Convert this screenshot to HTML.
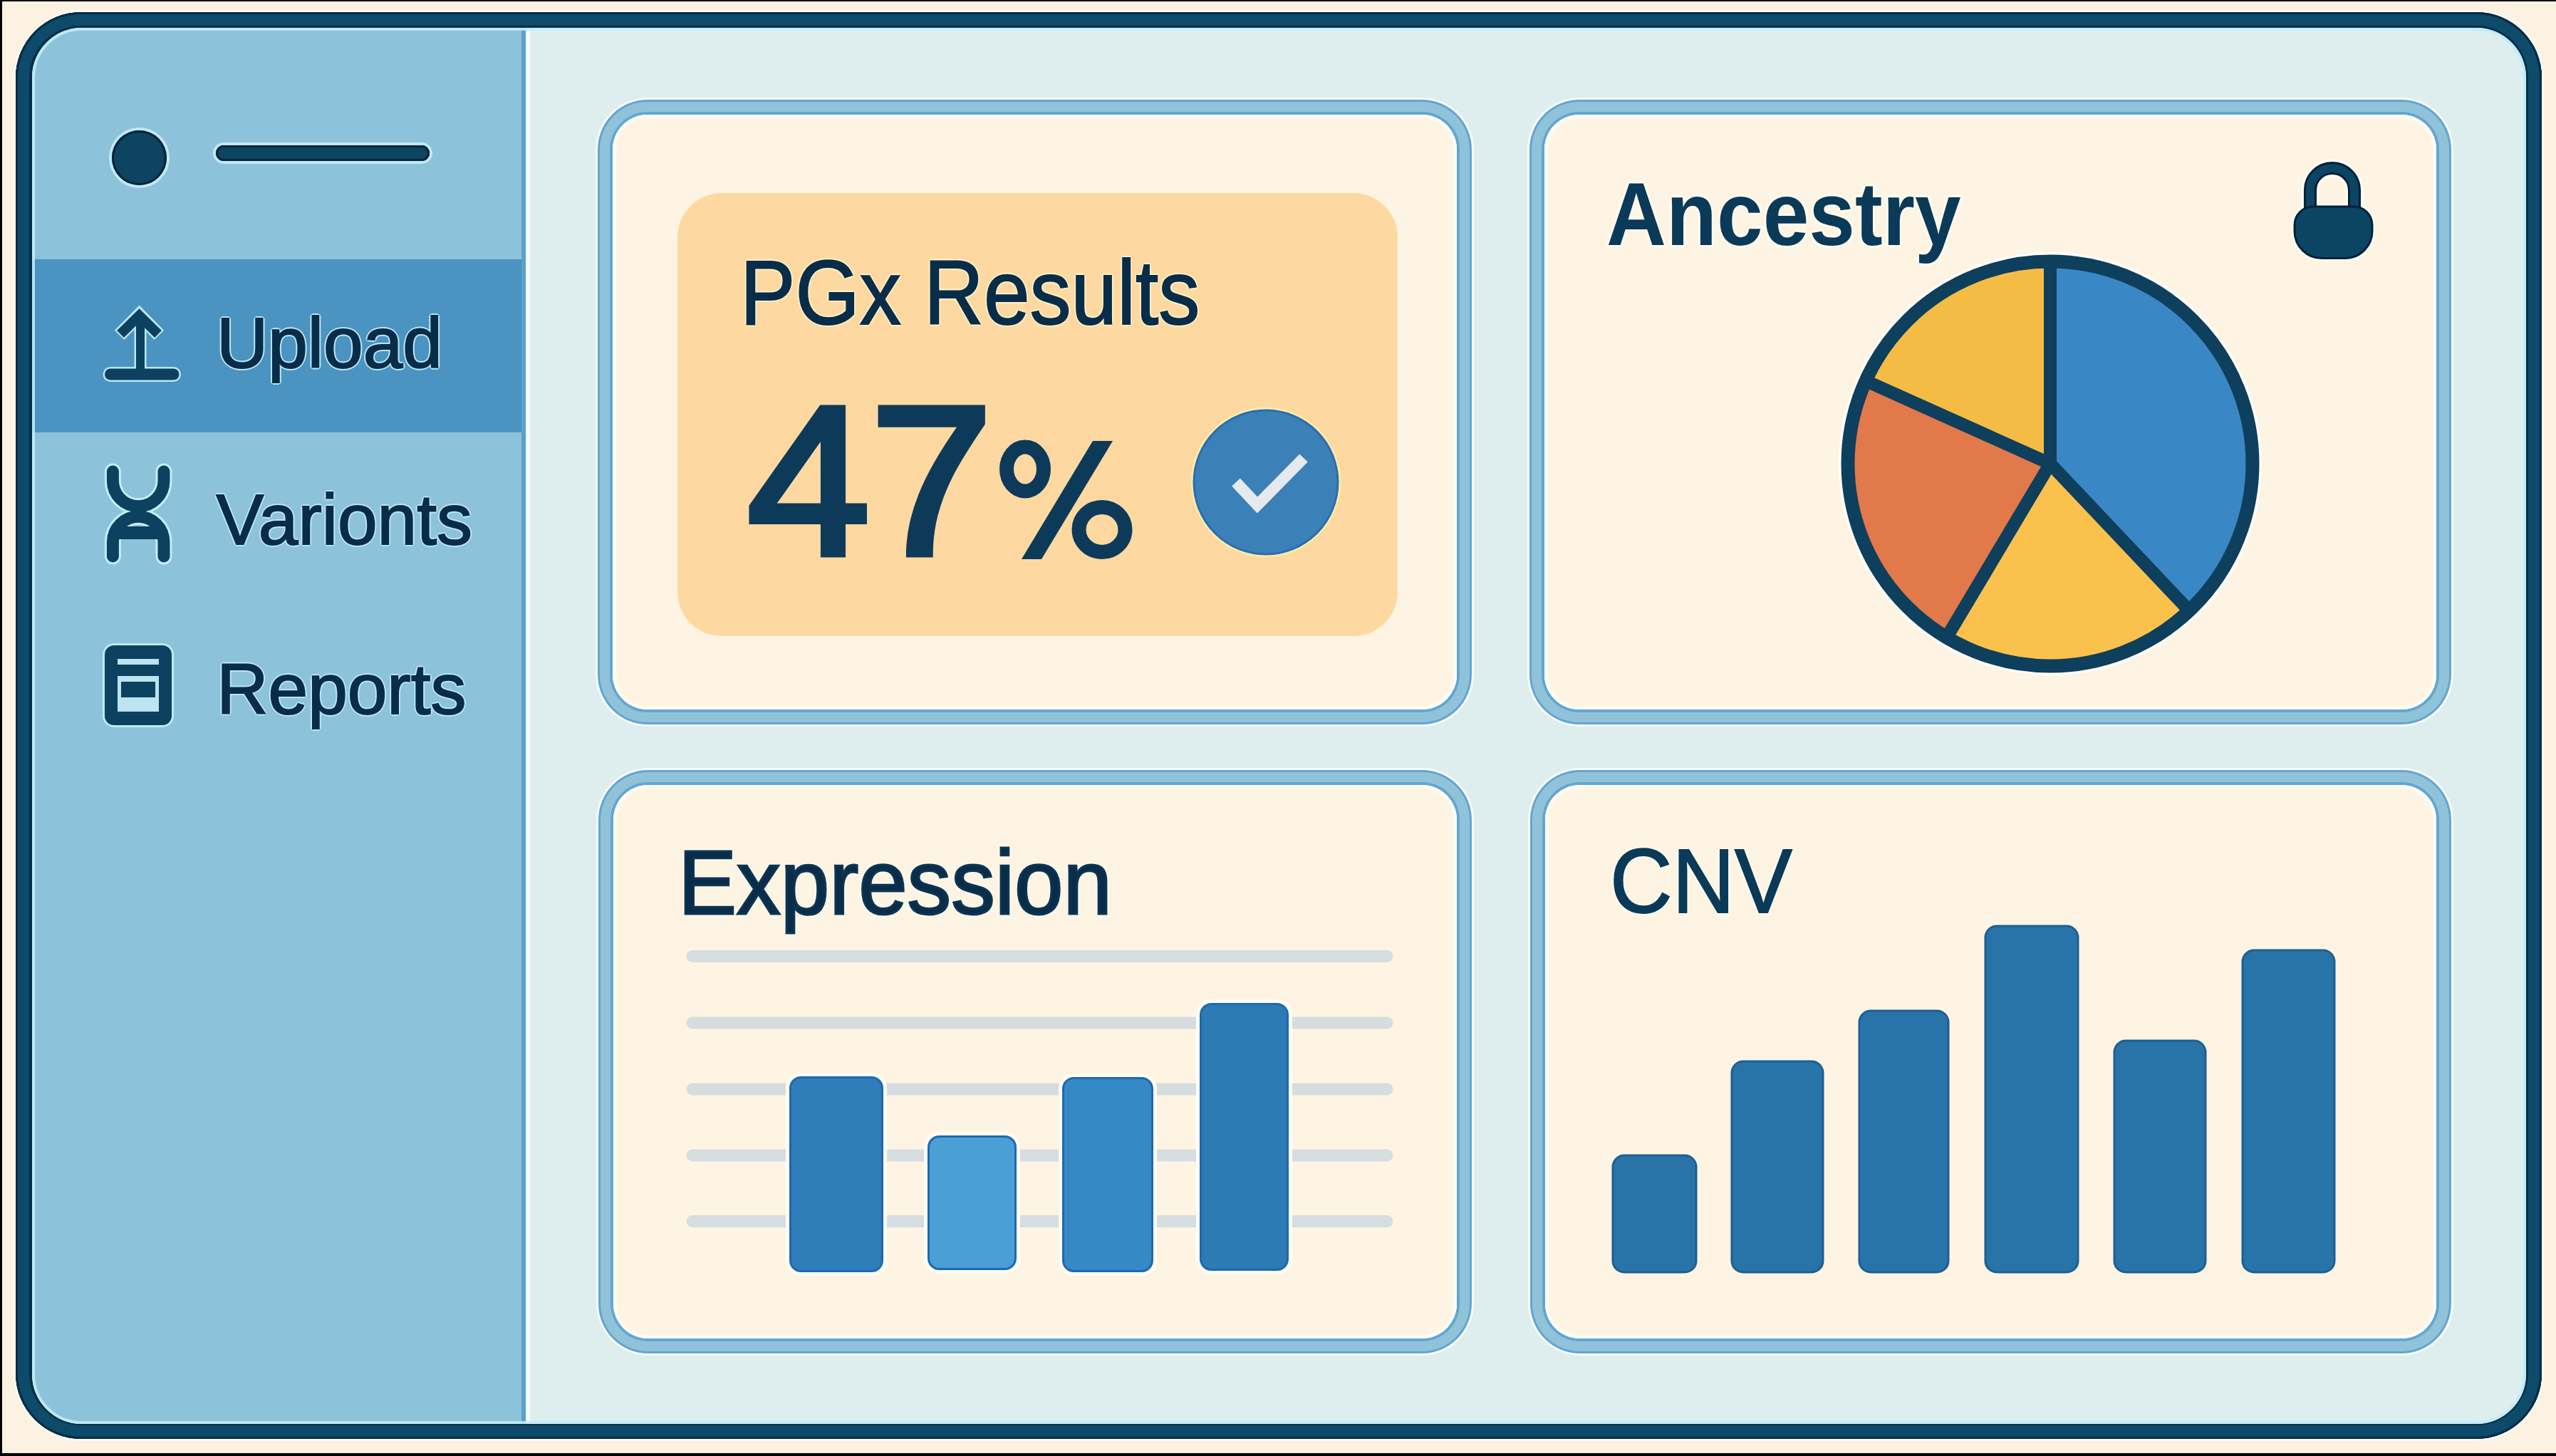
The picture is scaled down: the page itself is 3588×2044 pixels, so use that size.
<!DOCTYPE html>
<html><head><meta charset="utf-8">
<style>
html,body{margin:0;padding:0;}
body{width:3588px;height:2044px;position:relative;overflow:hidden;background:#FCF2E1;font-family:"Liberation Sans",sans-serif;}
.abs{position:absolute;}
#blk-top{left:0;top:0;width:3588px;height:2px;background:#000;}
#blk-left{left:0;top:0;width:3px;height:2044px;background:#000;}
#blk-bot{left:0;top:2040px;width:3588px;height:4px;background:#000;}
#frame{left:22px;top:17px;width:3546px;height:2003px;box-sizing:border-box;border-radius:92px;background:#0E4A6A;box-shadow:0 0 0 3px rgba(255,255,255,.55), inset 0 0 0 3px #062E45, inset 0 0 0 19px #0E4A6A, inset 0 0 0 23px #062E45;}
#inner{left:45px;top:39px;width:3501px;height:1960px;border-radius:70px;overflow:hidden;background:#DEEEEF;}
#side{left:0;top:0;width:692px;height:1960px;background:#8DC2DB;}
#side-edge{left:687px;top:0;width:6px;height:1960px;background:#5BA2CB;}
#side-white{left:694px;top:0;width:5px;height:1960px;background:#F8FCF9;}
#active{left:0;top:325px;width:692px;height:243px;background:#4B93C0;}
#inner-hl{left:45px;top:39px;width:3501px;height:1960px;border-radius:70px;box-sizing:border-box;border:4px solid rgba(190,236,250,.9);}
.card{box-sizing:border-box;border-radius:70px;background:#62A6D0;box-shadow:0 0 0 3px rgba(255,255,255,.8);}
.card .mid{position:absolute;left:3px;top:3px;right:3px;bottom:3px;border-radius:67px;background:#90C2DA;}
.card .in{position:absolute;left:17px;top:17px;right:17px;bottom:17px;border-radius:53px;background:#62A6D0;}
.card .fill{position:absolute;left:4px;top:4px;right:4px;bottom:4px;border-radius:49px;background:#FEF4E3;box-shadow:inset 0 0 0 3px #FFFFFA, inset 0 0 5px 4px #FFFDF5;}
.t{position:absolute;white-space:nowrap;line-height:1;color:#092D48;transform-origin:0 0;}
.sb{-webkit-text-stroke:2px #092D48;text-shadow:3px 0 #B8E6F5,-3px 0 #B8E6F5,0 3px #B8E6F5,0 -3px #B8E6F5,2px 2px #B8E6F5,-2px 2px #B8E6F5,2px -2px #B8E6F5,-2px -2px #B8E6F5;}
.hc{text-shadow:3px 0 #FFFCF0,-3px 0 #FFFCF0,0 3px #FFFCF0,0 -3px #FFFCF0,2px 2px #FFFCF0,-2px 2px #FFFCF0,2px -2px #FFFCF0,-2px -2px #FFFCF0;}
.ho{text-shadow:3px 0 #FFF1C8,-3px 0 #FFF1C8,0 3px #FFF1C8,0 -3px #FFF1C8,2px 2px #FFF1C8,-2px 2px #FFF1C8,2px -2px #FFF1C8,-2px -2px #FFF1C8;}
</style></head><body>
<div class="abs" id="blk-top"></div>
<div class="abs" id="blk-left"></div>
<div class="abs" id="blk-bot"></div>
<div class="abs" id="frame"></div>
<div class="abs" id="inner">
  <div class="abs" id="side"></div>
  <div class="abs" id="active"></div>
  <div class="abs" id="side-edge"></div>
  <div class="abs" id="side-white"></div>
</div>
<div class="abs" id="inner-hl"></div>

<!-- cards -->
<div class="abs card" style="left:839px;top:140px;width:1227px;height:877px;"><div class="mid"></div><div class="in"><div class="fill"></div></div></div>
<div class="abs card" style="left:2147px;top:140px;width:1294px;height:877px;"><div class="mid"></div><div class="in"><div class="fill"></div></div></div>
<div class="abs card" style="left:840px;top:1081px;width:1226px;height:819px;"><div class="mid"></div><div class="in"><div class="fill"></div></div></div>
<div class="abs card" style="left:2148px;top:1081px;width:1293px;height:819px;"><div class="mid"></div><div class="in"><div class="fill"></div></div></div>

<!-- PGx orange box -->
<div class="abs" style="left:951px;top:271px;width:1011px;height:622px;border-radius:62px;background:#FDD9A1;"></div>


<!-- sidebar header -->
<div class="abs" style="left:157px;top:183px;width:77px;height:77px;border-radius:50%;background:#0C4462;box-shadow:0 0 0 4px rgba(200,240,250,.85), inset 0 0 0 3px #04243A;"></div>
<div class="abs" style="left:303px;top:204px;width:300px;height:22px;border-radius:11px;background:#0C4462;box-shadow:0 0 0 4px rgba(200,240,250,.85), inset 0 0 0 3px #04243A;"></div>

<!-- sidebar icons -->
<svg class="abs" style="left:0;top:0" width="800" height="1100" viewBox="0 0 800 1100">
  <defs>
    <g id="upl">
      <path d="M169,469 L195.5,443 L222,469" stroke-width="14" stroke-linejoin="miter" fill="none"/>
      <line x1="197" y1="448" x2="197" y2="522" stroke-width="12"/>
      <line x1="155" y1="525.5" x2="243.5" y2="525.5" stroke-width="16" stroke-linecap="round"/>
    </g>
    <g id="dna">
      <path d="M158.4,662 L158.4,675 A35.8,35.8 0 0 0 230,675 L230,662" stroke-width="17" stroke-linecap="round" fill="none"/>
      <path d="M158.4,781 L158.4,761 A35.8,35.8 0 0 1 230,761 L230,781" stroke-width="17" stroke-linecap="round" fill="none"/>
    </g>
  </defs>
  <g stroke="#C3EEF9" fill="none" stroke-width="23" stroke-linecap="round">
    <path d="M158.4,662 L158.4,675 A35.8,35.8 0 0 0 230,675 L230,662"/>
    <path d="M158.4,781 L158.4,761 A35.8,35.8 0 0 1 230,761 L230,781"/>
  </g>
  <g stroke="#B9E8F6" fill="none">
    <path d="M167.6,470.4 L195.5,442 L223.4,470.4" stroke-width="19" stroke-linejoin="miter"/>
    <line x1="197" y1="448" x2="197" y2="522" stroke-width="17"/>
    <line x1="155" y1="525.5" x2="243.5" y2="525.5" stroke-width="21" stroke-linecap="round"/>
  </g>
  <g stroke="#0C4260"><use href="#upl"/><use href="#dna"/></g>
  <rect x="166" y="739" width="56" height="18" fill="#0C4260"/>
  <!-- reports -->
  <rect x="144" y="903" width="100" height="118" rx="16" fill="#BDE9F6"/>
  <rect x="147" y="906" width="94" height="112" rx="13" fill="#0C4260"/>
  <rect x="165" y="925" width="58" height="8" fill="#BDE3F0"/>
  <rect x="165" y="949" width="58" height="50" fill="#BDE3F0"/>
  <rect x="170" y="957" width="48" height="22" fill="#0C4260"/>
</svg>

<div class="t sb" style="left:304px;top:431px;font-size:100px;">Upload</div>
<div class="t sb" style="left:303.6px;top:678.7px;font-size:100px;">Varionts</div>
<div class="t sb" style="left:304.3px;top:917.1px;font-size:100px;">Reports</div>

<!-- PGx -->
<div class="t ho" style="left:1038.8px;top:347.2px;font-size:127.6px;transform:scaleX(.91);-webkit-text-stroke:2px #092D48;">PGx Results</div>
<div class="t ho" style="left:1049px;top:526.2px;font-size:298px;color:#0E3A5A;-webkit-text-stroke:9px #0E3A5A;transform:scaleX(1.04);">47</div>
<svg class="abs" style="left:1390px;top:600px" width="220" height="200" viewBox="1390 600 220 200">
  <ellipse cx="1439" cy="658.5" rx="26" ry="31" fill="none" stroke="#0E3A5A" stroke-width="20"/>
  <ellipse cx="1547" cy="743.5" rx="32.5" ry="31.5" fill="none" stroke="#0E3A5A" stroke-width="20"/>
  <polygon points="1434,785 1462,785 1562,619 1534,619" fill="#0E3A5A"/>
</svg>
<svg class="abs" style="left:1660px;top:560px" width="240" height="240" viewBox="1660 560 240 240">
  <circle cx="1777" cy="677" r="105" fill="#FFF1A6" opacity=".85"/>
  <circle cx="1777" cy="677" r="101" fill="#3B80B7" stroke="#2A6DB3" stroke-width="3"/>
  <path d="M1735,677 L1765,709 L1830,643" fill="none" stroke="#E6EAEE" stroke-width="16"/>
</svg>

<!-- Ancestry -->
<div class="t hc" style="left:2255px;top:237.5px;font-size:125.7px;font-weight:bold;transform:scaleX(.925);color:#0A3A58;">Ancestry</div>
<svg class="abs" style="left:3200px;top:200px" width="150" height="180" viewBox="3200 200 150 180">
  <path id="lkS" d="M3243,300 L3243,267 A31,31 0 0 1 3305,267 L3305,300" fill="none" stroke="#FFFDF5" stroke-width="25"/>
  <path d="M3247,290 L3304,290 A26,26 0 0 1 3330,316 L3330,324.5 A38,38 0 0 1 3292,362.5 L3259,362.5 A38,38 0 0 1 3221,324.5 L3221,316 A26,26 0 0 1 3247,290 Z" fill="none" stroke="#FFFDF5" stroke-width="8"/>
  <path d="M3243,300 L3243,267 A31,31 0 0 1 3305,267 L3305,300" fill="none" stroke="#03213A" stroke-width="18"/>
  <path d="M3243,300 L3243,267 A31,31 0 0 1 3305,267 L3305,300" fill="none" stroke="#0C4564" stroke-width="12"/>
  <path d="M3247,290 L3304,290 A26,26 0 0 1 3330,316 L3330,324.5 A38,38 0 0 1 3292,362.5 L3259,362.5 A38,38 0 0 1 3221,324.5 L3221,316 A26,26 0 0 1 3247,290 Z" fill="#0C4564" stroke="#03213A" stroke-width="3"/>
</svg>
<svg class="abs" id="pie" style="left:2560px;top:340px" width="640" height="640" viewBox="2560 340 640 640">
  <path d="M2878,651 L2878.0,367.0 A284,284 0 0 1 3073.1,857.3 Z" fill="#3A87C5"/>
  <path d="M2878,651 L3073.1,857.3 A284,284 0 0 1 2732.6,894.9 Z" fill="#FAC24C"/>
  <path d="M2878,651 L2732.6,894.9 A284,284 0 0 1 2619.0,534.6 Z" fill="#E1794A"/>
  <path d="M2878,651 L2619.0,534.6 A284,284 0 0 1 2878.0,367.0 Z" fill="#F5BC45"/>
  <circle cx="2878" cy="651" r="294" fill="none" stroke="#FFFFFF" stroke-width="6" opacity=".8"/>
  <circle cx="2878" cy="651" r="284" fill="none" stroke="#0E3F5C" stroke-width="19"/>
  <line x1="2878" y1="651" x2="2878.0" y2="367.0" stroke="#0E3F5C" stroke-width="18"/>
  <line x1="2878" y1="651" x2="3073.1" y2="857.3" stroke="#0E3F5C" stroke-width="18"/>
  <line x1="2878" y1="651" x2="2732.6" y2="894.9" stroke="#0E3F5C" stroke-width="18"/>
  <line x1="2878" y1="651" x2="2619.0" y2="534.6" stroke="#0E3F5C" stroke-width="18"/>
</svg>

<!-- Expression -->
<div class="t hc" style="left:952.4px;top:1176px;font-size:127.2px;transform:scaleX(.968);-webkit-text-stroke:3px #0D3553;">Expression</div>
<svg class="abs" style="left:900px;top:1300px" width="1100" height="520" viewBox="900 1300 1100 520">
  <g stroke="#D6DDE1" stroke-width="17" stroke-linecap="round">
    <line x1="972" y1="1342.5" x2="1947" y2="1342.5"/>
    <line x1="972" y1="1436" x2="1947" y2="1436"/>
    <line x1="972" y1="1529" x2="1947" y2="1529"/>
    <line x1="972" y1="1622" x2="1947" y2="1622"/>
    <line x1="972" y1="1714.5" x2="1947" y2="1714.5"/>
  </g>
  <g stroke="#FFFCF2" stroke-width="10" fill="#FFFCF2">
    <rect x="1108" y="1511" width="132" height="275" rx="16"/>
    <rect x="1302" y="1594" width="125" height="189" rx="16"/>
    <rect x="1491" y="1512" width="128" height="274" rx="16"/>
    <rect x="1684" y="1408" width="125" height="376" rx="16"/>
  </g>
  <g stroke="#1E69B0" stroke-width="3">
    <rect x="1109.5" y="1512.5" width="129" height="272" rx="15" fill="#2F7DB9"/>
    <rect x="1303.5" y="1595.5" width="122" height="186" rx="15" fill="#4A9FD7"/>
    <rect x="1492.5" y="1513.5" width="125" height="271" rx="15" fill="#3589C5"/>
    <rect x="1685.5" y="1409.5" width="122" height="373" rx="15" fill="#2D7BB4"/>
  </g>
</svg>

<!-- CNV -->
<div class="t hc" style="left:2260.2px;top:1174px;font-size:127.5px;transform:scaleX(.95);color:#0A3A58;-webkit-text-stroke:2px #0A3A58;">CNV</div>
<svg class="abs" style="left:2200px;top:1250px" width="1150" height="600" viewBox="2200 1250 1150 600">
  <g stroke="#1D5F93" stroke-width="3" fill="#2874A8">
    <rect x="2264" y="1622" width="117" height="164" rx="16"/>
    <rect x="2431" y="1490" width="128" height="296" rx="16"/>
    <rect x="2610" y="1419" width="125" height="367" rx="16"/>
    <rect x="2787" y="1300" width="130" height="486" rx="16"/>
    <rect x="2968" y="1461" width="128" height="325" rx="16"/>
    <rect x="3148" y="1334" width="129" height="452" rx="16"/>
  </g>
</svg>

</body></html>
